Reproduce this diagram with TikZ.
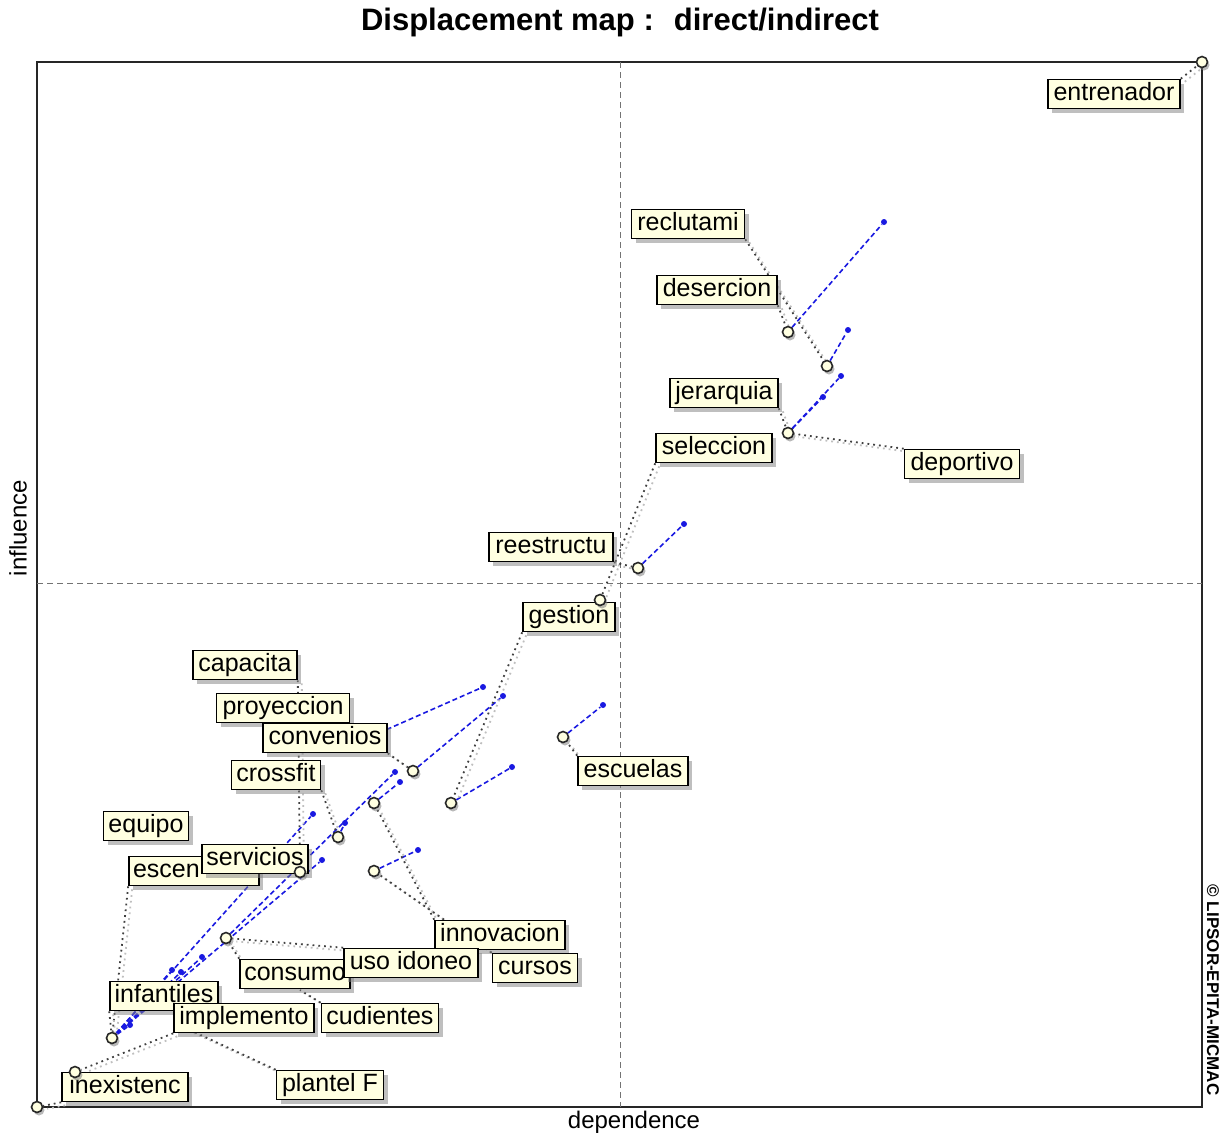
\documentclass[tikz,border=0pt]{standalone}
\usepackage{fontspec}
\setmainfont{Liberation Sans}
\usetikzlibrary{shadows}
\pgfdeclarelayer{bg}
\pgfsetlayers{bg,main}
\definecolor{tipfill}{RGB}{255,255,225}
\definecolor{shiftblue}{RGB}{25,25,225}
\tikzset{
  lbl/.style={draw=black, line width=0.8pt, fill=tipfill, inner xsep=2pt, inner ysep=1pt,
    text height=9.5pt, text depth=3pt, font=\fontsize{12.5}{12.5}\selectfont,
    drop shadow={shadow xshift=2pt, shadow yshift=-2pt, opacity=.5}},
  pt/.style={circle, draw=black!85, line width=0.8pt, fill=tipfill, minimum size=5.5pt, inner sep=0pt,
    drop shadow={shadow xshift=1pt, shadow yshift=-1.5pt, opacity=.55}},
  ind/.style={circle, fill=shiftblue, minimum size=3pt, inner sep=0pt},
  mv/.style={shiftblue, line width=0.8pt, dash pattern=on 2.5pt off 1.5pt},
  ld/.style={draw=black!75, line width=0.9pt, dotted,
    preaction={draw=black!25, line width=0.9pt, dotted, transform canvas={shift={(2pt,-1.5pt)}}}},
}
\begin{document}
\begin{tikzpicture}[x=0.5pt,y=-0.5pt]
	\path[use as bounding box] (0,0) rectangle (1222,1137);
	% Titel und Achsen
	\node[font=\bfseries\fontsize{15.5}{15.5}\selectfont] (titel) at (620,22) {Displacement map :~ direct/indirect};
	\node[font=\fontsize{12}{12}\selectfont] (xlab) at (634,1122) {dependence};
	\node[font=\fontsize{12}{12}\selectfont, rotate=90] (ylab) at (18,528) {influence};
	\node[font=\bfseries\fontsize{8.5}{8.5}\selectfont, rotate=-90] (copy) at (1213,990) {© LIPSOR-EPITA-MICMAC};
	% Beschriftungen
	\node[lbl, minimum width=66pt] (entrenador) at (1114,94) {entrenador};
	\node[lbl, minimum width=56.5pt] (reclutami) at (688,224) {reclutami};
	\node[lbl, minimum width=60pt] (desercion) at (717,290) {desercion};
	\node[lbl, minimum width=54pt] (jerarquia) at (724,393) {jerarquia};
	\node[lbl, minimum width=58pt] (seleccion) at (714,448) {seleccion};
	\node[lbl, minimum width=57.5pt] (deportivo) at (962,464) {deportivo};
	\node[lbl, minimum width=62pt] (reestructu) at (551,547) {reestructu};
	\node[lbl, minimum width=46pt] (gestion) at (569,617) {gestion};
	\node[lbl, minimum width=52pt] (capacita) at (245,665) {capacita};
	\node[lbl, minimum width=66.5pt] (proyeccion) at (283,708) {proyeccion};
	\node[lbl, minimum width=62pt] (convenios) at (325,738) {convenios};
	\node[lbl, minimum width=44.5pt] (crossfit) at (276,775) {crossfit};
	\node[lbl, minimum width=55pt] (escuelas) at (633,771) {escuelas};
	\node[lbl, minimum width=42.5pt] (equipo) at (146,826) {equipo};
	\node[lbl, text width=61pt, align=left] (escen) at (194,871) {escen};
	\node[lbl, minimum width=53pt] (servicios) at (255,859) {servicios};
	\node[lbl, minimum width=65pt] (innovacion) at (500,935) {innovacion};
	\node[lbl, minimum width=55pt] (consumo) at (295,974) {consumo};
	\node[lbl, minimum width=67pt] (usoidoneo) at (411,963) {uso idoneo};
	\node[lbl, minimum width=42.5pt] (cursos) at (535,968) {cursos};
	\node[lbl, minimum width=54pt] (infantiles) at (164,996) {infantiles};
	\node[lbl, minimum width=70pt] (implemento) at (244,1018) {implemento};
	\node[lbl, minimum width=58.5pt] (cudientes) at (380,1018) {cudientes};
	\node[lbl, minimum width=53.5pt] (plantelF) at (330,1085) {plantel F};
	\node[lbl, minimum width=63pt] (inexistenc) at (125,1087) {inexistenc};
	% direkte Lage
	\node[pt] (entr) at (1202,62) {};
	\node[pt] (des) at (788,332) {};
	\node[pt] (rec) at (827,366) {};
	\node[pt] (jer) at (788,433) {};
	\node[pt] (rst) at (638,568) {};
	\node[pt] (sel) at (600,600) {};
	\node[pt] (esc) at (563,737) {};
	\node[pt] (con) at (413,771) {};
	\node[pt] (ges) at (451,803) {};
	\node[pt] (inn) at (374,803) {};
	\node[pt] (crs) at (338,837) {};
	\node[pt] (ser) at (300,872) {};
	\node[pt] (cur) at (374,871) {};
	\node[pt] (cns) at (226,938) {};
	\node[pt] (inf) at (112,1038) {};
	\node[pt] (imp) at (75,1072) {};
	\node[pt] (ine) at (37,1107) {};
	% verdeckte Punkte
	\coordinate (pry) at (372,736);
	\coordinate (plf) at (190,1030);
	\coordinate (cud) at (300,990);
	% indirekte Lage
	\node[ind] (desi) at (884,222) {};
	\node[ind] (reci) at (848,330) {};
	\node[ind] (jeri) at (823,397) {};
	\node[ind] (depi) at (841,376) {};
	\node[ind] (rsti) at (684,524) {};
	\node[ind] (esci) at (603,705) {};
	\node[ind] (coni) at (503,696) {};
	\node[ind] (pryi) at (483,687) {};
	\node[ind] (gesi) at (512,767) {};
	\node[ind] (inni) at (400,782) {};
	\node[ind] (crsi) at (345,823) {};
	\node[ind] (curi) at (418,850) {};
	\node[ind] (cnsi) at (395,772) {};
	\node[ind] (infa) at (313,814) {};
	\node[ind] (infb) at (322,860) {};
	\node[ind] (infc) at (130,1025) {};
	\node[ind] (infd) at (172,970) {};
	\node[ind] (infe) at (181,972) {};
	\node[ind] (inff) at (202,957) {};
	\begin{pgfonlayer}{bg}
		\fill[white] (0,0) rectangle (1222,1137);
		% Rahmen
		\draw[black!85, line width=1pt] (37,62) rectangle (1202,1107);
		\draw[black!55, line width=0.5pt, dash pattern=on 3pt off 2pt] (620,62) -- (620,1107);
		\draw[black!55, line width=0.5pt, dash pattern=on 3pt off 2pt] (37,583) -- (1202,583);
		% Verschiebungen
		\foreach \a/\b in {des/desi, rec/reci, jer/jeri, jer/depi, rst/rsti, esc/esci, con/coni, pry/pryi,
			ges/gesi, inn/inni, crs/crsi, cur/curi, cns/cnsi, inf/infa, inf/infb, inf/infc, inf/infd, inf/infe, inf/inff}
			\draw[mv] (\a) -- (\b);
		% Zuordnung
		\draw[ld] (entrenador.north east) -- (entr);
		\draw[ld] (reclutami.south east) -- (rec);
		\draw[ld] (desercion.south east) -- (des);
		\draw[ld] (jerarquia.south east) -- (jer);
		\draw[ld] (deportivo.north west) -- (jer);
		\draw[ld] (seleccion.south west) -- (sel);
		\draw[ld] (reestructu.south east) -- (rst);
		\draw[ld] (gestion.south west) -- (ges);
		\draw[ld] (capacita.south east) -- (ser);
		\draw[ld] (convenios.south east) -- (con);
		\draw[ld] (crossfit.south east) -- (crs);
		\draw[ld] (escuelas.north west) -- (esc);
		\draw[ld] (escen.south west) -- (inf);
		\draw[ld] (innovacion.north west) -- (inn);
		\draw[ld] (cursos.north west) -- (cur);
		\draw[ld] (usoidoneo.north west) -- (cns);
		\draw[ld] (consumo.north west) -- (cns);
		\draw[ld] (cudientes.north west) -- (cud);
		\draw[ld] (infantiles.south west) -- (inf);
		\draw[ld] (implemento.south west) -- (imp);
		\draw[ld] (plantelF.north west) -- (plf);
		\draw[ld] (inexistenc.south west) -- (ine);
	\end{pgfonlayer}
\end{tikzpicture}
\end{document}
